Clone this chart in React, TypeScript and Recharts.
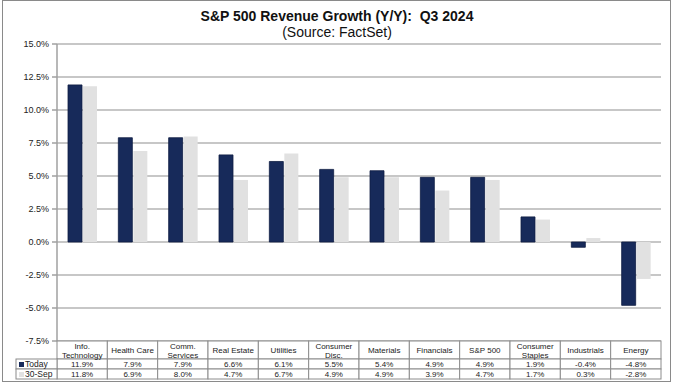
import React from "react"
import { BarChart, Bar, XAxis, YAxis, CartesianGrid } from "recharts"

const categories = [
  "Info.\nTechnology",
  "Health Care",
  "Comm.\nServices",
  "Real Estate",
  "Utilities",
  "Consumer\nDisc.",
  "Materials",
  "Financials",
  "S&P 500",
  "Consumer\nStaples",
  "Industrials",
  "Energy",
]
const today = [11.9, 7.9, 7.9, 6.6, 6.1, 5.5, 5.4, 4.9, 4.9, 1.9, -0.4, -4.8]
const sep30 = [11.8, 6.9, 8.0, 4.7, 6.7, 4.9, 4.9, 3.9, 4.7, 1.7, 0.3, -2.8]
const yTicks = [-7.5, -5, -2.5, 0, 2.5, 5, 7.5, 10, 12.5, 15]

const data = categories.map((name, i) => ({ name, today: today[i], sep30: sep30[i] }))

const W = 674
const H = 388
const M = { top: 44, right: 13, left: 0, bottom: 7 }
const Y_W = 57
const PLOT_BOTTOM = 341
const BAND = (W - M.left - Y_W - M.right) / categories.length
const NAVY = "#172a5a"
const LIGHT = "#e1e1e1"
const BORDER = "#8c8c8c"
const TXT = "#222"

const fmt = (v: number) => v.toFixed(1) + "%"

function TableTick(props: any) {
  const { x, payload } = props
  const i = payload.index
  const left = x - BAND / 2
  const y0 = PLOT_BOTTOM
  const lines = String(payload.value).split("\n")
  return (
    <g fontFamily="Arial, 'Liberation Sans', sans-serif" fontSize={8} fill={TXT}>
      <rect x={left} y={y0} width={BAND} height={18} fill="#fff" stroke={BORDER} strokeWidth={1} />
      <rect x={left} y={y0 + 18} width={BAND} height={10} fill="#fff" stroke={BORDER} strokeWidth={1} />
      <rect x={left} y={y0 + 28} width={BAND} height={10} fill="#fff" stroke={BORDER} strokeWidth={1} />
      {lines.map((l, k) => (
        <text key={k} x={x} y={lines.length === 1 ? y0 + 12 : y0 + 8 + k * 8.5} textAnchor="middle" fill={TXT}>
          {l}
        </text>
      ))}
      <text x={x} y={y0 + 26} textAnchor="middle" fill={TXT}>{fmt(today[i])}</text>
      <text x={x} y={y0 + 36} textAnchor="middle" fill={TXT}>{fmt(sep30[i])}</text>
      {i === 0 && (
        <g>
          <rect x={left - 41} y={y0 + 18} width={41} height={10} fill="#fff" stroke={BORDER} strokeWidth={1} />
          <rect x={left - 41} y={y0 + 28} width={41} height={10} fill="#fff" stroke={BORDER} strokeWidth={1} />
          <rect x={left - 38} y={y0 + 21} width={5} height={5} fill={NAVY} />
          <rect x={left - 38} y={y0 + 31} width={5} height={5} fill={LIGHT} />
          <text x={left - 32} y={y0 + 26} fontSize={8.5} fill={TXT}>Today</text>
          <text x={left - 32} y={y0 + 36} fontSize={8.5} fill={TXT}>30-Sep</text>
        </g>
      )}
    </g>
  )
}

export default function App() {
  return (
    <div style={{ position: "absolute", left: 0, top: 0, width: W, height: H, background: "#fff" }}>
      <div
        style={{
          position: "absolute",
          left: 2,
          top: 0,
          width: 667,
          height: 380,
          border: "1.5px solid #8a8a8a",
        }}
      />
      <div
        style={{
          position: "absolute",
          left: 0,
          top: 8,
          width: W,
          textAlign: "center",
          fontFamily: "Arial, 'Liberation Sans', sans-serif",
          color: "#111",
          lineHeight: "16px",
          fontSize: 14,
        }}
      >
        <div style={{ fontWeight: "bold" }}>S&amp;P 500 Revenue Growth (Y/Y):&nbsp; Q3 2024</div>
        <div>(Source: FactSet)</div>
      </div>
      <div style={{ position: "absolute", left: 0, top: 0 }}>
        <BarChart width={W} height={H} data={data} margin={M} barSize={14} barGap={1}>
          <CartesianGrid vertical={false} stroke="#b5b5b5" strokeWidth={1.5} />
          <YAxis
            width={Y_W}
            domain={[-7.5, 15]}
            ticks={yTicks}
            interval={0}
            tickFormatter={fmt}
            axisLine={{ stroke: "#a0a0a0", strokeWidth: 1.5 }}
            tickLine={{ stroke: "#a0a0a0", strokeWidth: 1.5 }}
            tickSize={5}
            tickMargin={3}
            tick={{ fontSize: 9, fill: TXT, fontFamily: "Arial, 'Liberation Sans', sans-serif" }}
          />
          <XAxis
            dataKey="name"
            height={40}
            axisLine={false}
            tickLine={false}
            interval={0}
            tick={<TableTick />}
          />
          <Bar dataKey="today" fill={NAVY} stroke="#0f1d42" strokeWidth={0.8} isAnimationActive={false} />
          <Bar dataKey="sep30" fill={LIGHT} isAnimationActive={false} />
        </BarChart>
      </div>
    </div>
  )
}
